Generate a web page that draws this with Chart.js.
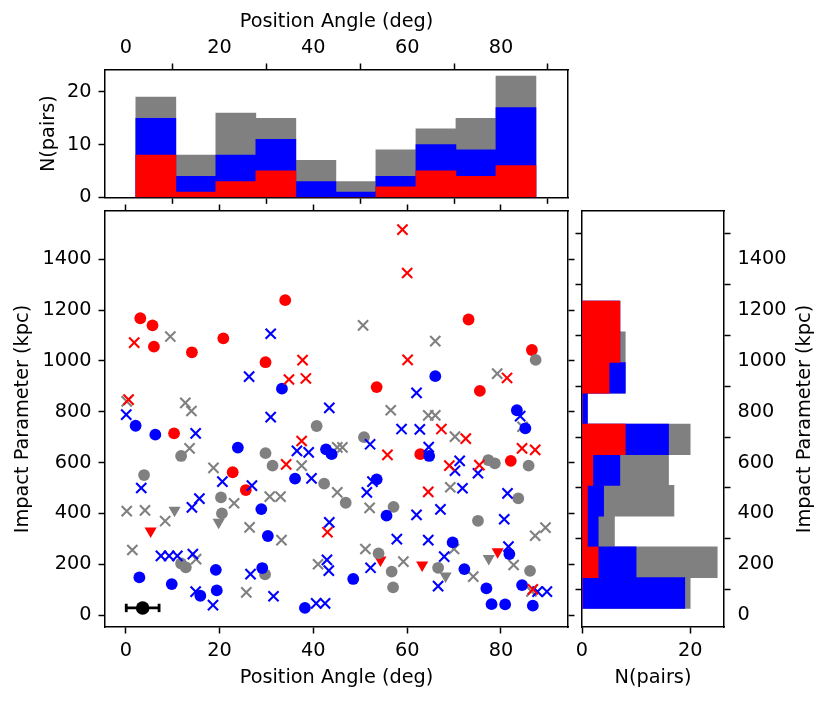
<!DOCTYPE html>
<html>
<head>
<meta charset="utf-8">
<script src="https://cdn.jsdelivr.net/npm/chart.js@4.4.0/dist/chart.umd.min.js"></script>
<style>
  html, body { margin: 0; padding: 0; background: #fff; }
  #wrap { position: relative; width: 830px; height: 702px; }
  #wrap canvas { position: absolute; left: 0; top: 0; }
</style>
</head>
<body>
<div id="wrap">
  <canvas id="topHist" width="830" height="702"></canvas>
  <canvas id="mainPlot" width="830" height="702"></canvas>
  <canvas id="sideHist" width="830" height="702"></canvas>
</div>
<script>
// ---- data ----
// top histogram (position angle bins)
const paBinCenters = [6.41, 14.94, 23.47, 32.0, 40.54, 49.07, 57.6, 66.14, 74.67, 83.2];
const paAll  = [19, 8, 16, 15, 7, 3, 9, 13, 15, 23];
const paBlue = [15, 4, 8, 11, 3, 1, 4, 10, 9, 17];
const paRed  = [8, 1, 3, 5, 0, 0, 2, 5, 4, 6];

// side histogram (impact parameter bins, kpc)
const ipBinCenters = [86.5, 207.5, 328.5, 449.5, 570.5, 691.5, 812.5, 933.5, 1054.5, 1175.5];
const ipAll  = [20, 25, 6, 17, 16, 20, 1, 8, 8, 7];
const ipBlue = [19, 10, 3, 4, 7, 16, 1, 8, 7, 7];
const ipRed  = [0, 3, 1, 1, 2, 8, 0, 5, 7, 7];

// scatter points [position angle, impact parameter]
const redDots = [[3.1,1168],[5.7,1140],[6.0,1056],[14.1,1034],[20.8,1089],[34.0,1239],[29.8,995],
  [53.5,897],[73.1,1163],[86.6,1043],[75.5,882],[10.3,715],[22.8,562],[25.6,492],[62.8,633],[82.1,607]];
const blueDots = [[33.3,891],[66.0,940],[83.4,806],[85.2,735],[2.1,745],[6.3,710],[19.2,178],[2.9,148],
  [9.8,122],[15.9,76],[19.4,97],[23.9,659],[42.7,652],[43.9,633],[36.1,537],[28.9,417],[30.3,311],
  [29.1,185],[38.2,28],[64.7,626],[53.5,534],[55.6,391],[69.7,286],[48.5,142],[72.2,181],[81.8,240],
  [84.5,118],[76.9,105],[78.0,43],[80.9,42],[86.8,37]];
const grayDots = [[87.4,1004],[11.8,626],[3.9,551],[20.3,463],[20.5,400],[11.8,203],[12.8,188],[40.7,744],
  [29.8,637],[31.3,588],[42.3,517],[46.9,442],[29.7,160],[50.8,700],[57.1,426],[53.9,243],[56.7,171],
  [66.6,186],[57.0,109],[77.3,610],[78.7,597],[85.9,588],[83.7,459],[75.1,371],[86.2,174]];
const redCrosses = [[1.8,1072],[0.6,848],[37.7,1003],[34.8,927],[38.4,931],[59.0,1517],[60.0,1346],
  [60.1,1004],[81.3,933],[37.5,685],[34.2,593],[43.0,326],[67.3,732],[72.5,694],[55.8,630],[69.0,588],
  [64.5,485],[84.5,656],[87.3,650],[75.4,590],[86.8,101]];
const blueCrosses = [[30.9,1107],[26.3,938],[43.4,815],[0.1,789],[30.9,779],[62.0,874],[84.1,783],
  [14.9,715],[20.6,525],[3.3,500],[15.7,458],[14.1,424],[7.5,233],[9.25,233],[11.0,233],[14.3,240],
  [14.9,92],[18.6,39],[36.5,646],[39.0,640],[39.6,538],[26.9,509],[43.4,365],[42.9,217],[43.3,175],
  [26.6,161],[31.5,74],[40.6,46],[42.5,46],[58.8,732],[62.7,731],[52.1,672],[64.6,661],[71.2,607],
  [70.2,568],[52.6,525],[51.4,483],[71.8,499],[62.0,394],[67.1,416],[57.8,299],[64.5,295],[67.9,230],
  [52.2,186],[66.6,114],[75.1,558],[81.4,479],[80.7,377],[81.6,269],[87.8,92],[89.8,92]];
const grayCrosses = [[9.5,1096],[0.2,841],[12.7,835],[14.0,803],[50.6,1140],[66.0,1078],[79.2,950],
  [56.5,806],[64.5,786],[66.0,786],[13.6,656],[18.7,579],[0.2,409],[4.1,412],[8.4,370],[1.4,256],
  [15.0,220],[45.1,660],[46.2,660],[37.5,588],[30.7,466],[33.0,466],[23.1,440],[45.1,483],[26.4,345],
  [33.2,295],[41.0,200],[25.7,89],[70.2,702],[69.2,503],[52.0,422],[70.0,260],[51.1,260],[59.2,210],
  [84.6,741],[87.3,312],[89.5,344],[82.7,197],[74.1,151],[86.5,93]];
const redTriangles = [[5.3,331],[54.3,217],[63.2,197],[79.3,249]];
const grayTriangles = [[10.4,412],[19.8,365],[68.2,154],[77.4,223]];

// reference point with x error bar
const refX = [3.6];
const refY = [28];
const refXerr = [3.5];

// axis ranges and tick labels
const paRange = [-4.43, 94.3];
const ipRange = [-47, 1590];
const topNRange = [0, 24.15];
const sideNRange = [0, 26.25];
const paTicks = [0, 20, 40, 60, 80];
const ipTicks = [0, 200, 400, 600, 800, 1000, 1200, 1400];
const topNTicks = [0, 10, 20];
const sideNTicks = [0, 20];

// ---- styling ----
const RED = '#ff0000', BLUE = '#0000ff', GRAY = '#808080', INK = '#000000';
const FONT = { family: "'DejaVu Sans', sans-serif", size: 19.3, lineHeight: 1.2 };

Chart.defaults.font = FONT;
Chart.defaults.color = INK;
Chart.defaults.animation = false;

const toXY = arr => arr.map(p => ({ x: p[0], y: p[1] }));

// one side of a frame: size fixes where the plot box sits on the page
function frameAxis(position, size, range, o = {}) {
  return {
    type: 'linear',
    position,
    min: range[0],
    max: range[1],
    offset: false,
    afterBuildTicks: s => { s.ticks = (o.ticks || []).map(v => ({ value: v })); },
    afterFit: s => { if (s.isHorizontal()) s.height = size; else s.width = size; },
    grid: {
      display: !!o.ticks,
      drawOnChartArea: false,
      drawTicks: true,
      tickLength: 6.5,
      tickWidth: 1.5,
      tickColor: INK
    },
    border: { display: true, color: INK, width: 1.5 },
    ticks: {
      display: !!o.labels,
      autoSkip: false,
      maxRotation: 0,
      padding: o.pad ?? 7,
      color: INK,
      font: FONT,
      callback: v => String(v)
    },
    title: o.title
      ? { display: true, text: o.title, color: INK, font: FONT, padding: o.titlePad }
      : { display: false }
  };
}

const basePlugins = { legend: { display: false }, tooltip: { enabled: false } };

function histSet(centers, counts, color, horizontal) {
  return {
    data: centers.map((c, i) => horizontal ? { x: counts[i], y: c } : { x: c, y: counts[i] }),
    backgroundColor: color,
    borderWidth: 0,
    barPercentage: 1,
    categoryPercentage: 1,
    grouped: false
  };
}

// ---- top histogram ----
new Chart(document.getElementById('topHist'), {
  type: 'bar',
  data: {
    datasets: [
      histSet(paBinCenters, paRed, RED),
      histSet(paBinCenters, paBlue, BLUE),
      histSet(paBinCenters, paAll, GRAY)
    ]
  },
  options: {
    responsive: false,
    layout: { padding: 0 },
    plugins: basePlugins,
    scales: {
      x: frameAxis('bottom', 504.7, paRange, { ticks: paTicks }),
      x2: frameAxis('top', 70, paRange, { ticks: paTicks, labels: true, pad: 3.9,
        title: 'Position Angle (deg)', titlePad: { top: 10.9, bottom: 0 } }),
      y: frameAxis('left', 105, topNRange, { ticks: topNTicks, labels: true,
        title: 'N(pairs)', titlePad: { top: 37.7, bottom: 0 } }),
      y2: frameAxis('right', 262, topNRange, {})
    }
  }
});

// ---- main scatter ----
function dots(arr, color) {
  return { data: toXY(arr), pointStyle: 'circle', pointRadius: 5.9,
    backgroundColor: color, borderColor: color, borderWidth: 0 };
}
function crosses(arr, color) {
  return { data: toXY(arr), pointStyle: 'crossRot', pointRadius: 7.2,
    backgroundColor: color, borderColor: color, borderWidth: 2.1 };
}
function triangles(arr, color) {
  return { data: toXY(arr), pointStyle: 'triangle', rotation: 180, pointRadius: 7,
    backgroundColor: color, borderColor: color, borderWidth: 0 };
}

const errBar = {
  data: [{ x: refX[0] - refXerr[0], y: refY[0] }, { x: refX[0] + refXerr[0], y: refY[0] }],
  showLine: true,
  borderColor: INK,
  borderWidth: 2.8,
  pointStyle: 'line',
  rotation: 90,
  pointRadius: 4.2,
  pointBorderWidth: 2.8,
  pointBorderColor: INK
};
const refPoint = { data: refX.map((x, i) => ({ x, y: refY[i] })), pointStyle: 'circle',
  pointRadius: 6.8, backgroundColor: INK, borderColor: INK, borderWidth: 0 };

new Chart(document.getElementById('mainPlot'), {
  type: 'scatter',
  data: {
    datasets: [
      refPoint,
      errBar,
      crosses(redCrosses, RED),
      dots(blueDots, BLUE),
      crosses(blueCrosses, BLUE),
      dots(grayDots, GRAY),
      triangles(redTriangles, RED),
      triangles(grayTriangles, GRAY),
      dots(redDots, RED),
      crosses(grayCrosses, GRAY)
    ]
  },
  options: {
    responsive: false,
    layout: { padding: 0 },
    plugins: basePlugins,
    scales: {
      x: frameAxis('bottom', 75, paRange, { ticks: paTicks, labels: true, pad: 6.2,
        title: 'Position Angle (deg)', titlePad: { top: 0, bottom: 12.1 } }),
      x2: frameAxis('top', 211, paRange, { ticks: paTicks }),
      y: frameAxis('left', 105, ipRange, { ticks: ipTicks, labels: true,
        title: 'Impact Parameter (kpc)', titlePad: { top: 11.7, bottom: 0 } }),
      y2: frameAxis('right', 262, ipRange, { ticks: ipTicks })
    }
  }
});

// ---- side histogram ----
// right-hand title reads bottom-to-top, like the left one
const sideTitle = {
  id: 'sideTitle',
  afterDraw(chart, args, opts) {
    const { ctx, chartArea } = chart;
    ctx.save();
    ctx.translate(opts.x, (chartArea.top + chartArea.bottom) / 2);
    ctx.rotate(-Math.PI / 2);
    ctx.font = FONT.size + 'px ' + FONT.family;
    ctx.fillStyle = INK;
    ctx.textAlign = 'center';
    ctx.textBaseline = 'middle';
    ctx.fillText(opts.text, 0, 0);
    ctx.restore();
  }
};

new Chart(document.getElementById('sideHist'), {
  type: 'bar',
  data: {
    datasets: [
      histSet(ipBinCenters, ipRed, RED, true),
      histSet(ipBinCenters, ipBlue, BLUE, true),
      histSet(ipBinCenters, ipAll, GRAY, true)
    ]
  },
  plugins: [sideTitle],
  options: {
    indexAxis: 'y',
    responsive: false,
    layout: { padding: 0 },
    plugins: Object.assign({}, basePlugins, {
      sideTitle: { text: 'Impact Parameter (kpc)', x: 804.6 }
    }),
    scales: {
      x: frameAxis('bottom', 75, sideNRange, { ticks: sideNTicks, labels: true, pad: 6.2,
        title: 'N(pairs)', titlePad: { top: 0, bottom: 12.1 } }),
      x2: frameAxis('top', 211, sideNRange, {}),
      y: frameAxis('left', 582, ipRange, { ticks: ipTicks }),
      y2: frameAxis('right', 106, ipRange, { ticks: ipTicks, labels: true })
    }
  }
});
</script>
</body>
</html>
